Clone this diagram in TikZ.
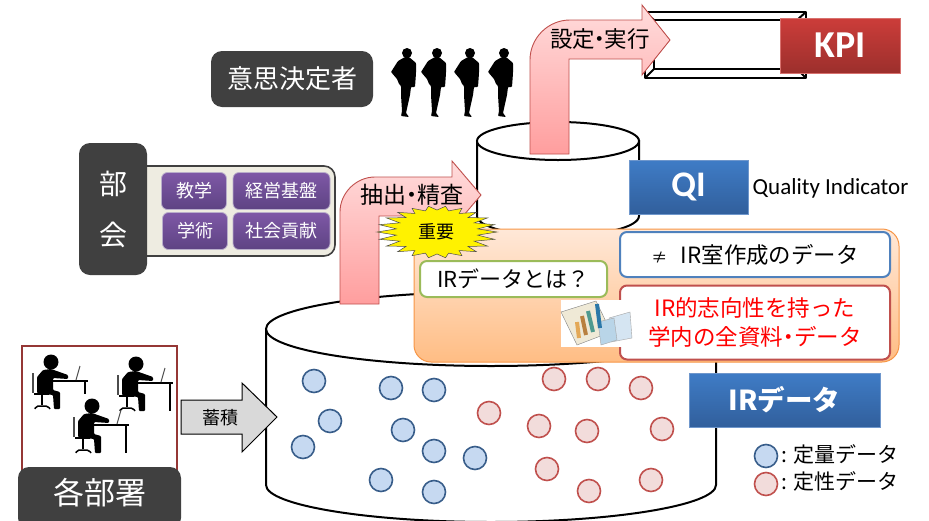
\documentclass[tikz,border=0pt]{standalone}
\usepackage{fontspec}
\setmainfont{Noto Sans CJK JP}
\newfontfamily\latinf{Carlito}
\usetikzlibrary{shapes.geometric}
\definecolor{darkbox}{HTML}{404040}
\definecolor{bluedot}{HTML}{C6D9F1}
\definecolor{blueline}{HTML}{385D8A}
\definecolor{reddot}{HTML}{F2DCDB}
\definecolor{redline}{HTML}{C0504D}
\definecolor{purptop}{HTML}{7E58A6}
\definecolor{purpbot}{HTML}{5E4383}
\definecolor{lavline}{HTML}{B9AECB}
\definecolor{headtop}{HTML}{3F7CC6}
\definecolor{headbot}{HTML}{315F9C}
\definecolor{headline}{HTML}{6F97CC}
\definecolor{pinktop}{HTML}{FFDCDC}
\definecolor{pinkbot}{HTML}{FF9E9E}
\definecolor{kpitop}{HTML}{CC3D3A}
\definecolor{kpibot}{HTML}{9C2F2C}
\definecolor{kpiline}{HTML}{D8716E}
\definecolor{orline}{HTML}{F79646}
\definecolor{ortop}{HTML}{FFE8D8}
\definecolor{orbot}{HTML}{FFBD84}
\definecolor{boxblue}{HTML}{4F81BD}
\definecolor{boxgreen}{HTML}{9BBB59}
\definecolor{beige}{HTML}{EEECE1}
\definecolor{framered}{HTML}{953735}
\definecolor{arrowgray}{HTML}{D9D9D9}
\definecolor{paper}{HTML}{EFE9D6}
\definecolor{sheetb}{HTML}{D5E5F2}
\definecolor{sheetc}{HTML}{B9D5E8}
\definecolor{bara}{HTML}{E3A857}
\definecolor{barb}{HTML}{B9803F}
\definecolor{barc}{HTML}{4F9A8F}
\definecolor{bard}{HTML}{2B78A8}
\tikzset{
  fs/.style={font=\fontsize{#1}{26}\selectfont},
  darkpanel/.style={fill=darkbox,draw=none,rounded corners=11pt,text=white,inner sep=0pt,align=center},
  purplebtn/.style={top color=purptop,bottom color=purpbot,draw=lavline,line width=.8pt,rounded corners=6pt,text=white,inner sep=0pt,fs=18},
  headbox/.style={inner sep=0pt,text=white},
  bluehead/.style={headbox,top color=headtop,bottom color=headbot,draw=headline,line width=.7pt},
  whitebox/.style={fill=white,rounded corners=7pt,line width=2pt,inner sep=0pt},
  pinkarrow/.style={top color=pinktop,bottom color=pinkbot,draw=redline,line width=.9pt},
  dotblue/.style={circle,minimum size=23pt,inner sep=0pt,fill=bluedot,draw=blueline,line width=1.6pt},
  dotred/.style={circle,minimum size=23pt,inner sep=0pt,fill=reddot,draw=redline,line width=1.6pt},
  cyl/.style={fill=white,draw=black,line width=2pt},
  txt/.style={inner sep=0pt,text=black}
}
\newcommand{\manfig}[1]{%
  \begin{scope}[shift={(#1,53)}]
    \fill[black] (0,0) circle (5pt);
    \fill[black,rounded corners=.8pt] (-2,4) -- (-9,8) -- (-16,19) -- (-10,26) -- (-8,31) -- (-6,33) -- (-6,42) -- (-5,58) -- (-6,63) -- (2,64) -- (-1,60) -- (3,42) -- (4,34) -- (8,34) -- (9,20) -- (9,10) -- (2,4) -- cycle;
  \end{scope}}
\newcommand{\deskfig}[3]{%
  \begin{scope}[shift={(#1,#2)}]
    \fill[black] (0,0) circle (7.5pt);
    \fill[black,rounded corners=1pt] (-8,8) -- (0,7) -- (17,13) -- (17,17) -- (2,16) -- (2,28) -- (9,30) -- (9,47) -- (3,47) -- (2,33) -- (-14,31) -- (-14,15) -- cycle;
    \draw[black,line width=2.2pt] (1,19) -- (37,19);
    \draw[black,line width=1.8pt] (34,19) -- (34,#3);
    \draw[black!70,line width=1pt] (25,18) -- (29,4);
    \draw[black!70,line width=2.4pt] (-18,11) -- (-18,31);
    \draw[black,line width=1.6pt] (-17,32) -- (-2,32) (-9,32) -- (-9,43);
    \draw[black,line width=1.5pt,rounded corners=2pt] (-16,47) -- (-15,44) -- (-3,44) -- (-1,47);
  \end{scope}}
\begin{document}
\begin{tikzpicture}[x=1pt,y=-1pt]
\clip (0,0) rectangle (929,520);
\fill[white] (0,0) rectangle (929,520);

% big cylinder
\path[cyl] (266,329) -- (266,485) .. controls (266,505) and (367,522) .. (491,522) .. controls (615,522) and (716,505) .. (716,485) -- (716,329) -- cycle;
\path[cyl] (491,329) ellipse [x radius=225pt,y radius=37pt];
% small cylinder
\path[cyl] (477,141) -- (477,216) .. controls (477,227) and (513,236) .. (558,236) .. controls (603,236) and (639,227) .. (639,216) -- (639,141) -- cycle;
\path[cyl] (558,141) ellipse [x radius=81pt,y radius=19pt];

% KPI frame
\draw[black,line width=2pt,line join=round] (645,12) rectangle (806,78);
\draw[black,line width=2pt] (654,20) rectangle (806,69);
\draw[black,line width=2pt] (645,12) -- (654,20) (645,78) -- (654,69) (806,12) -- (797,20) (806,78) -- (797,69);

% pink arrows
\path[pinkarrow] (530,154) -- (530,60) .. controls (530,38) and (548,20) .. (570,20) -- (642,20) -- (642,5) -- (670,40) -- (642,75) -- (642,59) -- (569,59) -- (569,154) -- cycle;
\path[pinkarrow] (340,304) -- (340,212) .. controls (340,193) and (356,177) .. (375,177) -- (452,177) -- (452,161) -- (481,195) -- (452,229) -- (452,216) -- (379,216) -- (379,304) -- cycle;
\node[txt,fs=22.5] (setjitsu) at (600,39) {設定\hspace{-.28em}・\hspace{-.28em}実行};
\node[txt,fs=23] (chusei) at (412,195) {抽出\hspace{-.28em}・\hspace{-.28em}精査};

% KPI & QI
\node[headbox,top color=kpitop,bottom color=kpibot,draw=kpiline,line width=.6pt,minimum width=120pt,minimum height=55pt,fs=38] (kpi) at (840,45.5) {\latinf\bfseries KPI};
\node[bluehead,minimum width=119pt,minimum height=54pt,fs=36] (qi) at (688.5,187) {\latinf\bfseries QI};
\node[txt,anchor=west,fs=23] (qitext) at (752.5,188) {\latinf Quality Indicator};

% orange panel
\node[draw=orline,line width=1pt,top color=ortop,bottom color=orbot,rounded corners=17pt,minimum width=485pt,minimum height=133pt,inner sep=0pt] (orange) at (656.5,295.5) {};
\node[whitebox,draw=boxblue,minimum width=270pt,minimum height=45pt,fs=22.4] (notir) at (755,254.5) {{\fontsize{16}{16}\selectfont ≠}\hspace{.6em}IR室作成のデータ};
\node[whitebox,draw=redline,minimum width=270pt,minimum height=74pt,fs=22.5,text=red,align=center] (allmat) at (755,322.5) {IR的志向性を持った\\[3pt]学内の全資料\hspace{-.25em}・\hspace{-.25em}データ};
\node[whitebox,draw=boxgreen,minimum width=187pt,minimum height=36pt,fs=22] (irwhat) at (513.5,279) {IRデータとは？};

% chart icon
\fill[white] (561,300) rectangle (632,347);
\fill[paper,draw=gray] (561,312) -- (596,301) -- (611,332) -- (577,345) -- cycle;
\fill[sheetb,draw=gray!70] (609,318) -- (630,312) -- (632,338) -- (611,342) -- cycle;
\fill[sheetc,draw=gray!70] (598,322) -- (614,318) -- (617,340) -- (601,345) -- cycle;
\draw[bara,line width=4pt] (579,338) -- (577,322);
\draw[barb,line width=4pt] (586,335) -- (582,316);
\draw[barc,line width=4pt] (593,332) -- (588,311);
\draw[bard,line width=4pt] (600,328) -- (597,304);

% star
\path[fill=yellow,draw=black!70,line width=.5pt] plot[domain=0:43,samples=44,variable=\t] ({437+(60-19*mod(\t,2))*cos(\t*360/44)},{232+(26-4*mod(\t,2))*sin(\t*360/44)}) -- cycle;
\node[txt,fs=18] (juyo) at (436,232) {重要};

% decision makers
\node[darkpanel,minimum width=162pt,minimum height=56pt,fs=26] (ishi) at (292,79) {意思決定者};
\manfig{407}\manfig{437}\manfig{470}\manfig{504}

% bukai
\node[fill=beige,draw=darkbox,line width=1.6pt,rounded corners=11pt,minimum width=205pt,minimum height=90pt,inner sep=0pt] (panel) at (232.5,211) {};
\node[darkpanel,minimum width=68pt,minimum height=132pt,fs=28] (bukai) at (113,209) {部\\[25pt]会};
\node[purplebtn,minimum width=65pt,minimum height=37pt] (k1) at (194,191) {教学};
\node[purplebtn,minimum width=97pt,minimum height=37pt] (k2) at (281.5,191) {経営基盤};
\node[purplebtn,minimum width=65pt,minimum height=37pt] (k3) at (195,231) {学術};
\node[purplebtn,minimum width=97pt,minimum height=37pt] (k4) at (281.5,231) {社会貢献};

% departments
\node[fill=white,draw=framered,line width=1.4pt,minimum width=155pt,minimum height=130pt,inner sep=0pt] (frame) at (99.5,411) {};
\deskfig{51}{362}{32}
\deskfig{136}{364}{47}
\deskfig{92}{406}{47}
\node[darkpanel,minimum width=163pt,minimum height=62pt,fs=31] (kakubu) at (99.5,498) {};
\node[txt,text=white,fs=31] (kakutxt) at (99.5,493) {各部署};
\path[fill=arrowgray,draw=black,line width=1pt] (181,400) -- (242,400) -- (242,383) -- (277,417) -- (242,452) -- (242,434) -- (181,434) -- cycle;
\node[txt,fs=18] (chikuseki) at (220,418) {蓄積};

% dots
\foreach \n/\p in {1/{314,381},2/{391,388},3/{434,390},4/{330,421},5/{403,430},6/{303,447},7/{434,451},8/{475,458},9/{381,480},10/{434,492}}
  \node[dotblue] (b\n) at (\p) {};
\foreach \n/\p in {1/{554,379},2/{598,379},3/{641,388},4/{489,413},5/{539,426},6/{587,431},7/{662,429},8/{547,469},9/{589,491},10/{651,480}}
  \node[dotred] (r\n) at (\p) {};

% IR data
\node[bluehead,minimum width=191pt,minimum height=54pt,fs=27.5] (irdata) at (784.5,400) {\bfseries IRデータ};

% legend
\node[dotblue] (lb) at (766,456) {};
\node[dotred] (lr) at (766,484) {};
\node[txt,anchor=west,fs=21] (lbt) at (781,454) {: 定量データ};
\node[txt,anchor=west,fs=21] (lrt) at (781,481) {: 定性データ};
\end{tikzpicture}
\end{document}
